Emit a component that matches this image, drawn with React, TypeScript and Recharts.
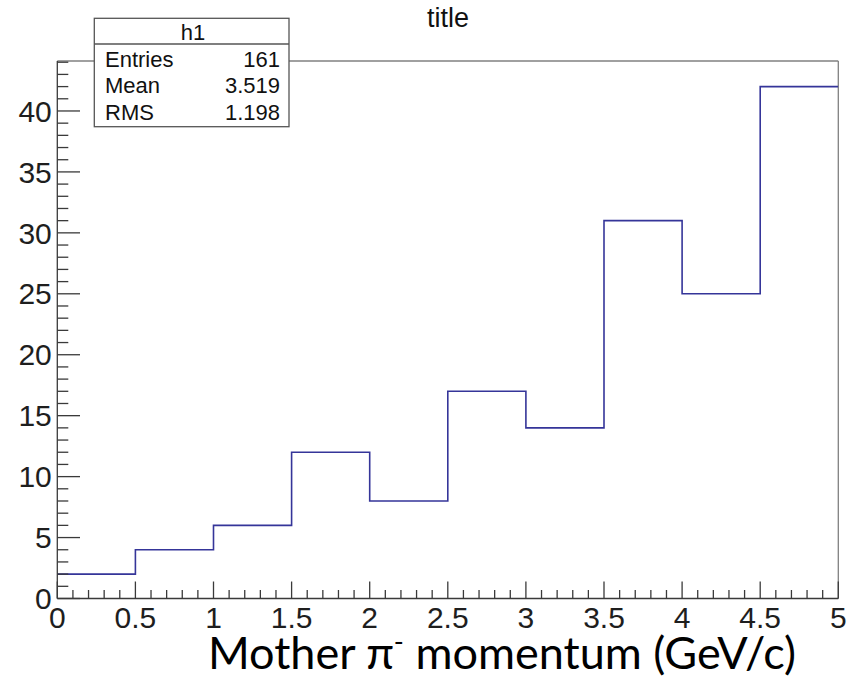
import React from 'react';
import { ComposedChart, Line, XAxis, YAxis, ReferenceLine } from 'recharts';

// Histogram h1: 10 bins of 0.5 GeV/c between 0 and 5
const binEdges = [0, 0.5, 1, 1.5, 2, 2.5, 3, 3.5, 4, 4.5, 5];
const counts = [2, 4, 6, 12, 8, 17, 14, 31, 25, 42];

// Statistics box contents
const histName = 'h1';
const statLabels = ['Entries', 'Mean', 'RMS'];
const statValues = ['161', '3.519', '1.198'];

const chartTitle = 'title';
const yMax = 44.1;

// Tick positions: x every 0.1 (labels every 0.5), y every 1 (labels every 5)
const xTicks = Array.from({ length: 51 }, (_, i) => i / 10);
const yTicks = Array.from({ length: 45 }, (_, i) => i);

// step data: each bin edge carries the count of the bin to its right
const histData = binEdges.map((edge, i) => ({
  x: edge,
  count: counts[Math.min(i, counts.length - 1)],
}));

const W = 861;
const H = 678;
const margin = { top: 61, right: 22.7, bottom: 0, left: 0 };

const AXIS_COLOR = '#3a3a3a';
const FRAME_COLOR = '#808080';
const LABEL_FONT = '"Liberation Sans", Arial, Helvetica, sans-serif';

const XTick = (props: any) => {
  const { x, y, payload } = props;
  const v = payload.value as number;
  const major = Math.round(v * 10) % 5 === 0;
  return (
    <g>
      <line x1={x} x2={x} y1={y} y2={y - (major ? 17 : 8.5)} stroke={AXIS_COLOR} strokeWidth={1.3} />
      {major && (
        <text x={x} y={y + 29} textAnchor="middle" fontSize={30} fontFamily={LABEL_FONT} fill="#1e1e1e">
          {String(v)}
        </text>
      )}
    </g>
  );
};

const YTick = (props: any) => {
  const { x, y, payload } = props;
  const v = payload.value as number;
  const major = v % 5 === 0;
  return (
    <g>
      <line x1={x} x2={x + (major ? 22.7 : 11)} y1={y} y2={y} stroke={AXIS_COLOR} strokeWidth={1.3} />
      {major && (
        <text x={x - 5.5} y={y + 10.7} textAnchor="end" fontSize={30} fontFamily={LABEL_FONT} fill="#1e1e1e">
          {String(v)}
        </text>
      )}
    </g>
  );
};

export default function App() {
  return (
    <div style={{ position: 'absolute', left: 0, top: 0, width: W, height: H, background: '#fff' }}>
      <ComposedChart width={W} height={H} data={histData} margin={margin}>
        <XAxis
          dataKey="x"
          type="number"
          domain={[0, 5]}
          ticks={xTicks}
          interval={0}
          tickSize={0}
          tickMargin={0}
          tickLine={false}
          tick={<XTick />}
          height={79.5}
          axisLine={{ stroke: AXIS_COLOR, strokeWidth: 1.3 }}
          allowDataOverflow
        />
        <YAxis
          type="number"
          domain={[0, yMax]}
          ticks={yTicks}
          interval={0}
          tickSize={0}
          tickMargin={0}
          tickLine={false}
          tick={<YTick />}
          width={57.3}
          axisLine={{ stroke: AXIS_COLOR, strokeWidth: 1.3 }}
          allowDataOverflow
        />
        <ReferenceLine y={yMax} stroke={FRAME_COLOR} strokeWidth={1.3} />
        <ReferenceLine x={5} stroke={FRAME_COLOR} strokeWidth={1.3} />
        <Line
          type="stepAfter"
          dataKey="count"
          stroke="#353599"
          strokeWidth={1.6}
          dot={false}
          activeDot={false}
          isAnimationActive={false}
        />
      </ComposedChart>

      <svg
        width={W}
        height={H}
        style={{ position: 'absolute', left: 0, top: 0, pointerEvents: 'none' }}
      >
        <text x={448} y={26.7} textAnchor="middle" fontSize={27} fontFamily={LABEL_FONT} fill="#111">
          {chartTitle}
        </text>

        <g fontFamily={LABEL_FONT} fill="#111">
          <rect x={94.3} y={18.3} width={194.7} height={108.4} fill="#fff" stroke="#555" strokeWidth={1.3} />
          <line x1={94.3} x2={289} y1={44} y2={44} stroke="#555" strokeWidth={1.3} />
          <text x={193} y={40} textAnchor="middle" fontSize={22}>
            {histName}
          </text>
          {statLabels.map((label, i) => (
            <g key={label}>
              <text x={105} y={66.7 + i * 26.65} fontSize={22}>
                {label}
              </text>
              <text x={280} y={66.7 + i * 26.65} fontSize={22} textAnchor="end">
                {statValues[i]}
              </text>
            </g>
          ))}
        </g>

        <text x={208} y={669} fontSize={45} fontFamily='Lato, "Open Sans", sans-serif' fill="#000">
          Mother π
          <tspan fontSize={27} dy={-18}>-</tspan>
          <tspan dy={18}> momentum (GeV/c)</tspan>
        </text>
      </svg>
    </div>
  );
}
